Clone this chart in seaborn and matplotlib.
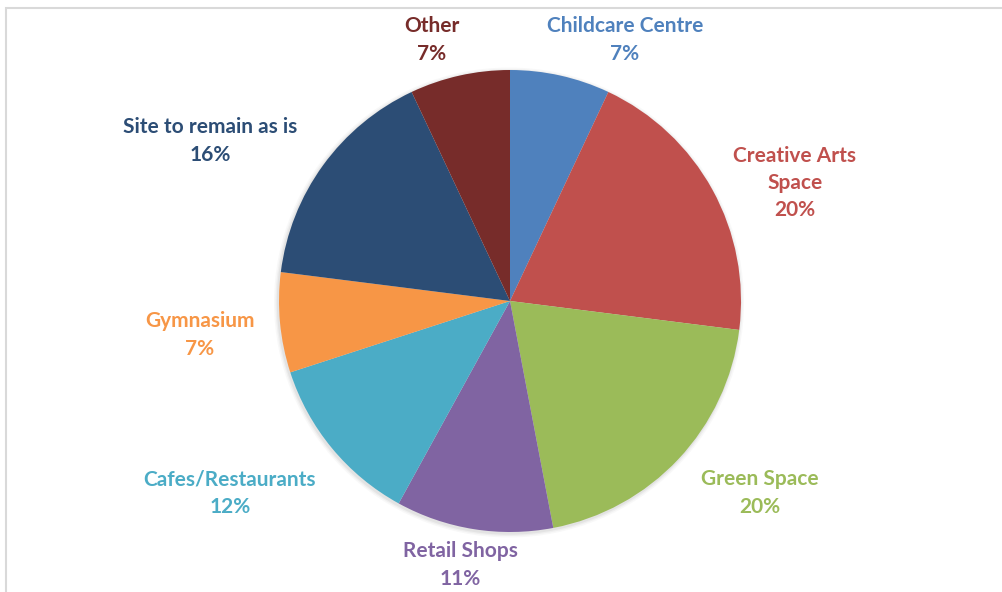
import seaborn as sns
import matplotlib.pyplot as plt
from matplotlib.patches import Rectangle, Circle
import matplotlib.patheffects as pe

sns.set_theme(style="white")
plt.rcParams['font.family'] = ['Lato', 'DejaVu Sans']

# data
categories = ["Childcare Centre", "Creative Arts\nSpace", "Green Space", "Retail Shops",
              "Cafes/Restaurants", "Gymnasium", "Site to remain as is", "Other"]
shares = [7, 20, 20, 11, 12, 7, 16, 7]
colors = ["#4F81BD", "#C0504D", "#9BBB59", "#8064A2",
          "#4BACC6", "#F79646", "#2C4D75", "#772C2A"]

# label centres in pixel coords (x from left, y from top), like a manual Excel layout
label_xy = [(625, 40), (795, 183), (760, 493), (460, 565),
            (230, 493), (200, 335), (210, 141), (432, 40)]

W, H = 1002, 592
fig = plt.figure(figsize=(W / 100, H / 100), dpi=100)
ax = fig.add_axes([0, 0, 1, 1])

cx, cy, r = 510, H - 301, 231
# soft shadow under the whole pie
for k, a in [(4, 0.05), (2.5, 0.07), (1.2, 0.1)]:
    ax.add_patch(Circle((cx - 1, cy - 1.5), r + k, facecolor="#808080", edgecolor="none",
                        alpha=a, zorder=0))

wedges, _ = ax.pie(shares, colors=colors, startangle=90, counterclock=False,
                   center=(cx, cy), radius=r,
                   wedgeprops=dict(linewidth=0.3, edgecolor="none"))
for w in wedges:
    w.set_zorder(2)

for cat, val, col, (x, y) in zip(categories, shares, colors, label_xy):
    ax.text(x, H - y, f"{cat}\n{val}%", ha="center", va="center", color=col,
            fontsize=15, fontweight="bold", linespacing=1.45)

ax.set_xlim(0, W)
ax.set_ylim(0, H)
ax.set_aspect("equal")
ax.axis("off")

# light frame of the chart area (top and left edges visible)
fig.patches.append(Rectangle((6 / W, -0.1), 1.2, (H - 8) / H + 0.1, transform=fig.transFigure,
                             fill=False, edgecolor="#D9D9D9", linewidth=1.5))

fig.savefig("out.png", dpi=100, facecolor="white")
